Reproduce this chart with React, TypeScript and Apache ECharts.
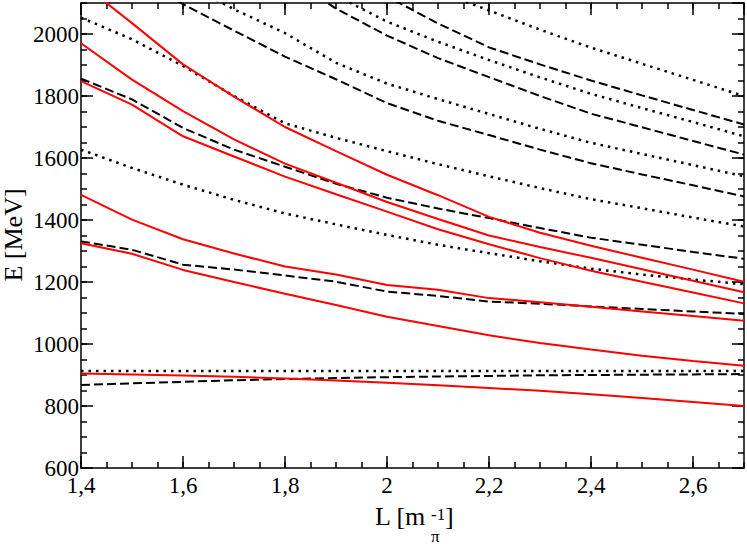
import React, { useEffect, useRef } from "react";
import * as echarts from "echarts";

// L values [1/m_pi]
const xs = [1.4, 1.5, 1.6, 1.7, 1.8, 1.9, 2.0, 2.1, 2.2, 2.3, 2.4, 2.5, 2.6, 2.7];

// red solid curves (E in MeV)
const red1 = [905, 902, 898, 894, 889, 882, 875, 867, 858, 849, 838, 826, 813, 800];
const red2 = [1325, 1291, 1239, 1200, 1162, 1126, 1088, 1058, 1028, 1003, 982, 962, 945, 930];
const red3 = [1481, 1401, 1338, 1292, 1250, 1224, 1190, 1175, 1148, 1135, 1120, 1105, 1090, 1075];
const red4 = [1848, 1772, 1670, 1605, 1540, 1483, 1427, 1370, 1322, 1277, 1236, 1201, 1166, 1131];
const red5 = [1970, 1853, 1751, 1660, 1582, 1520, 1458, 1403, 1350, 1313, 1278, 1241, 1204, 1167];
const red6 = [2165, 2035, 1902, 1798, 1700, 1622, 1546, 1480, 1410, 1359, 1317, 1278, 1240, 1201];

// black dashed curves
const dash1 = [868, 873, 878, 883, 887, 890, 893, 895, 897, 899, 900, 901, 902, 903];
const dash2 = [1331, 1304, 1256, 1240, 1221, 1201, 1169, 1155, 1137, 1130, 1121, 1113, 1105, 1097];
const dash3 = [1856, 1789, 1697, 1627, 1572, 1517, 1472, 1437, 1406, 1374, 1343, 1320, 1297, 1275];
const dash4 = [null, 2185, 2096, 2011, 1927, 1854, 1777, 1720, 1674, 1627, 1583, 1547, 1512, 1476];
const dash5 = [null, null, null, null, 2190, 2082, 1995, 1922, 1861, 1800, 1743, 1699, 1655, 1611];
const dash6 = [null, null, null, null, null, 2200, 2121, 2034, 1957, 1902, 1850, 1802, 1755, 1708];

// black dotted curves
const dot1 = [913, 913, 913, 913, 913, 913, 913, 913, 913, 913, 913, 913, 913, 913];
const dot2 = [1627, 1568, 1514, 1465, 1421, 1386, 1352, 1320, 1293, 1267, 1243, 1224, 1208, 1193];
const dot3 = [2053, 1983, 1897, 1800, 1712, 1665, 1622, 1580, 1541, 1503, 1467, 1438, 1408, 1379];
const dot4 = [null, null, 2165, 2080, 2003, 1907, 1840, 1790, 1742, 1694, 1649, 1613, 1577, 1541];
const dot5 = [null, null, null, null, null, 2124, 2040, 1975, 1916, 1860, 1807, 1761, 1716, 1670];
const dot6 = [null, null, null, null, null, null, null, 2137, 2076, 2014, 1956, 1904, 1852, 1800];

const FAMILY = "Liberation Serif";

function toData(vals: (number | null)[]) {
  const out: number[][] = [];
  vals.forEach((v, i) => {
    if (v !== null) out.push([xs[i], v]);
  });
  return out;
}

function fmtX(v: number) {
  const r = Math.round(v * 10) / 10;
  const s = Number.isInteger(r) ? String(r) : String(r).replace(".", ",");
  return "{t|" + s + "}";
}

function fmtY(v: number) {
  return "{t|" + String(Math.round(v)) + "}";
}

export default function App() {
  const ref = useRef<HTMLDivElement>(null);
  useEffect(() => {
    if (!ref.current) return;
    const chart = echarts.init(ref.current, null, { renderer: "svg" });

    const axisLineStyle = { color: "#000", width: 1.5 };
    const rich = {
      t: { fontFamily: "Liberation Serif, serif", fontSize: 23, color: "#000" },
    };
    const xAxisMajor = (pos: string) => ({
      type: "value",
      position: pos,
      min: 1.4,
      max: 2.7,
      interval: 0.2,
      axisLine: { show: true, onZero: false, lineStyle: axisLineStyle },
      axisTick: { show: true, inside: true, length: 12, lineStyle: axisLineStyle },
      axisLabel: {
        show: pos === "bottom",
        showMaxLabel: false,
        margin: 6,
        color: "#000",
        fontFamily: "Liberation Serif, serif",
        fontSize: 23,
        rich,
        formatter: fmtX,
      },
      splitLine: { show: false },
    });
    const xAxisMinor = (pos: string) => ({
      type: "value",
      position: pos,
      min: 1.4,
      max: 2.7,
      interval: 0.05,
      axisLine: { show: false, onZero: false },
      axisTick: { show: true, inside: true, length: 6, lineStyle: axisLineStyle },
      axisLabel: { show: false },
      splitLine: { show: false },
    });
    const yAxisMajor = (pos: string) => ({
      type: "value",
      position: pos,
      min: 600,
      max: 2100,
      interval: 200,
      axisLine: { show: true, onZero: false, lineStyle: axisLineStyle },
      axisTick: { show: true, inside: true, length: 12, lineStyle: axisLineStyle },
      axisLabel: {
        show: pos === "left",
        showMaxLabel: false,
        margin: 2,
        color: "#000",
        fontFamily: "Liberation Serif, serif",
        fontSize: 23,
        rich,
        formatter: fmtY,
      },
      splitLine: { show: false },
    });
    const yAxisMinor = (pos: string) => ({
      type: "value",
      position: pos,
      min: 600,
      max: 2100,
      interval: 50,
      axisLine: { show: false, onZero: false },
      axisTick: { show: true, inside: true, length: 6, lineStyle: axisLineStyle },
      axisLabel: { show: false },
      splitLine: { show: false },
    });

    const mk = (vals: (number | null)[], color: string, type: any, width: number) => ({
      type: "line",
      xAxisIndex: 0,
      yAxisIndex: 0,
      data: toData(vals),
      showSymbol: false,
      symbol: "none",
      clip: true,
      silent: true,
      lineStyle: { color, width, type, cap: "butt" },
    });

    const DASH = [9, 4];
    const DOT = [2.5, 5];

    chart.setOption({
      animation: false,
      backgroundColor: "#fff",
      textStyle: { fontFamily: FAMILY, color: "#000" },
      grid: { left: 81, right: 3, top: 3, bottom: 76, containLabel: false },
      xAxis: [xAxisMajor("bottom"), xAxisMinor("bottom"), xAxisMajor("top"), xAxisMinor("top")],
      yAxis: [yAxisMajor("left"), yAxisMinor("left"), yAxisMajor("right"), yAxisMinor("right")],
      series: [
        mk(dot1, "#000", DOT, 2.5),
        mk(dot2, "#000", DOT, 2.5),
        mk(dot3, "#000", DOT, 2.5),
        mk(dot4, "#000", DOT, 2.5),
        mk(dot5, "#000", DOT, 2.5),
        mk(dot6, "#000", DOT, 2.5),
        mk(dash1, "#000", DASH, 2),
        mk(dash2, "#000", DASH, 2),
        mk(dash3, "#000", DASH, 2),
        mk(dash4, "#000", DASH, 2),
        mk(dash5, "#000", DASH, 2),
        mk(dash6, "#000", DASH, 2),
        mk(red1, "#ff0000", "solid", 2),
        mk(red2, "#ff0000", "solid", 2),
        mk(red3, "#ff0000", "solid", 2),
        mk(red4, "#ff0000", "solid", 2),
        mk(red5, "#ff0000", "solid", 2),
        mk(red6, "#ff0000", "solid", 2),
      ],
      graphic: [
        {
          type: "text",
          x: 13,
          y: 235,
          rotation: Math.PI / 2,
          style: {
            text: "E [MeV]",
            fill: "#000",
            fontFamily: FAMILY,
            fontSize: 26,
            align: "center",
            verticalAlign: "middle",
          },
        },
        {
          type: "text",
          x: 375,
          y: 529,
          style: { text: "L [m", fill: "#000", fontFamily: FAMILY, fontSize: 26, align: "left", verticalAlign: "bottom" },
        },
        {
          type: "text",
          x: 431,
          y: 536,
          style: { text: "π", fill: "#000", fontFamily: FAMILY, fontSize: 17, align: "left", verticalAlign: "middle" },
        },
        {
          type: "text",
          x: 431,
          y: 514,
          style: { text: "-1", fill: "#000", fontFamily: FAMILY, fontSize: 17, align: "left", verticalAlign: "middle" },
        },
        {
          type: "text",
          x: 445,
          y: 529,
          style: { text: "]", fill: "#000", fontFamily: FAMILY, fontSize: 26, align: "left", verticalAlign: "bottom" },
        },
      ],
    });
    return () => chart.dispose();
  }, []);
  return (
    <div
      ref={ref}
      style={{ position: "fixed", left: 0, top: 0, width: 747, height: 544, background: "#fff" }}
    />
  );
}
